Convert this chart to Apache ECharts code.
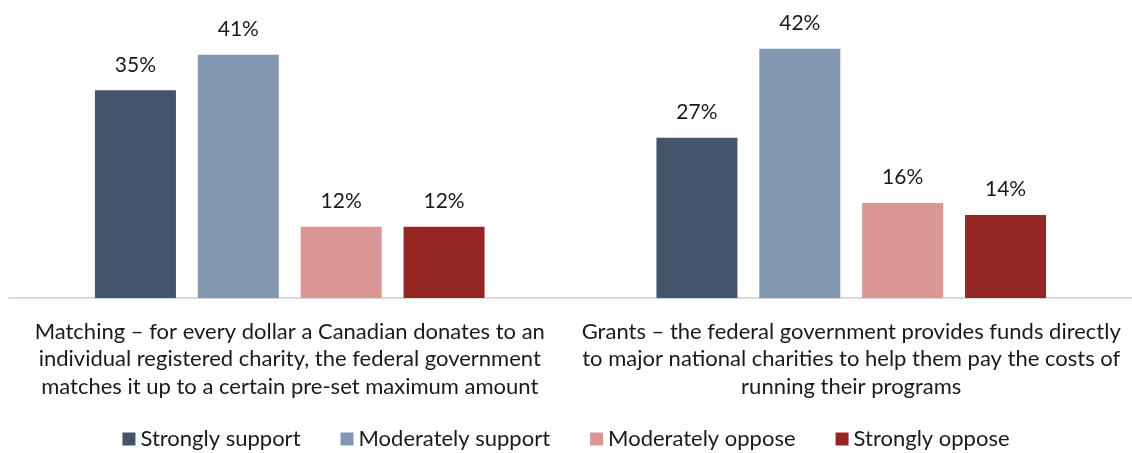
<!DOCTYPE html>
<html>
<head>
<meta charset="utf-8">
<script src="https://cdn.jsdelivr.net/npm/echarts@6/dist/echarts.min.js"></script>
<style>
html,body{margin:0;padding:0;background:#fff;}
#chart{width:1132px;height:453px;}
</style>
</head>
<body>
<div id="chart"></div>
<script>
// Support / opposition for two federal funding approaches
var categories = [
  'Matching \u2013 for every dollar a Canadian donates to an\nindividual registered charity, the federal government\nmatches it up to a certain pre-set maximum amount',
  'Grants \u2013 the federal government provides funds directly\nto major national charities to help them pay the costs of\nrunning their programs'
];
var seriesNames = ['Strongly support', 'Moderately support', 'Moderately oppose', 'Strongly oppose'];
var strongSupport = [35, 27];
var moderateSupport = [41, 42];
var moderateOppose = [12, 16];
var strongOppose = [12, 14];
var colors = ['#44546A', '#8497B0', '#DA9694', '#962623'];

var FONT = 'Lato, "Open Sans", sans-serif';
var values = [strongSupport, moderateSupport, moderateOppose, strongOppose];

var chart = echarts.init(document.getElementById('chart'));
chart.setOption({
  animation: false,
  textStyle: { fontFamily: FONT },
  grid: { left: 9, width: 1127, top: 31, height: 267 },
  legend: {
    bottom: -2,
    left: 'center',
    itemWidth: 13,
    itemHeight: 13,
    itemGap: 40,
    icon: 'rect',
    textStyle: { fontSize: 22, color: '#1a1a1a', fontFamily: FONT },
    data: seriesNames
  },
  xAxis: {
    type: 'category',
    data: categories,
    axisLine: { lineStyle: { color: '#d9d9d9', width: 2 } },
    axisTick: { show: false },
    axisLabel: {
      interval: 0,
      margin: 20,
      fontSize: 22,
      lineHeight: 27.5,
      color: '#1a1a1a',
      fontFamily: FONT
    }
  },
  yAxis: {
    type: 'value',
    min: 0,
    max: 45,
    show: false,
    splitLine: { show: false }
  },
  series: seriesNames.map(function (name, i) {
    return {
      name: name,
      type: 'bar',
      data: values[i],
      barWidth: 81,
      barGap: '27%',
      itemStyle: { color: colors[i] },
      label: {
        show: true,
        position: 'top',
        distance: 15,
        formatter: '{c}%',
        fontSize: 21,
        color: '#1a1a1a',
        fontFamily: FONT
      }
    };
  })
});
</script>
</body>
</html>
